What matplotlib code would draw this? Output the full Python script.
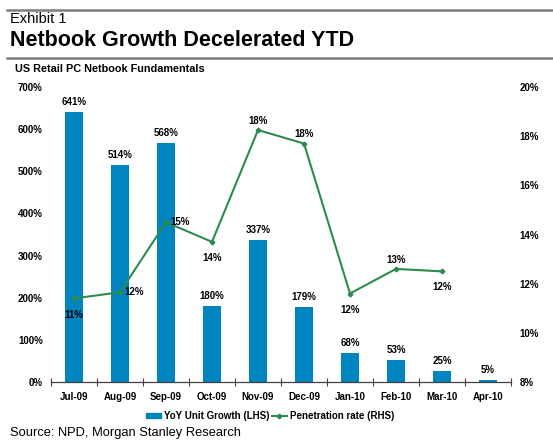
import numpy as np
from matplotlib import pyplot as plt
from matplotlib.lines import Line2D
from matplotlib.patches import Patch

plt.rcParams['font.family'] = ['Liberation Sans', 'DejaVu Sans']

months = ["Jul-09", "Aug-09", "Sep-09", "Oct-09", "Nov-09", "Dec-09",
          "Jan-10", "Feb-10", "Mar-10", "Apr-10"]
yoy_growth = [641, 514, 568, 180, 337, 179, 68, 53, 25, 5]
penetration = [11.4, 11.65, 14.5, 13.7, 18.25, 17.7, 11.6, 12.6, 12.5]
pen_labels = ["11%", "12%", "15%", "14%", "18%", "18%", "12%", "13%", "12%"]
# where each line label sits relative to its point
pen_label_pos = ["below", "right", "right", "below", "above", "above", "below", "above", "below"]

bar_color = "#0085C0"
line_color = "#2E8B4F"

W, H = 553, 441
fig = plt.figure(figsize=(W / 100, H / 100), dpi=100)

# header rules and titles
fig.add_artist(Line2D([7 / W, 1.0], [1 - 9.5 / H] * 2, color="#7f7f7f", lw=1.8))
fig.add_artist(Line2D([7 / W, 1.0], [1 - 58 / H] * 2, color="#7f7f7f", lw=1.8))
fig.text(10 / W, 1 - 19 / H, "Exhibit 1", fontsize=10.5, va="center", ha="left")
fig.text(10 / W, 1 - 41 / H, "Netbook Growth Decelerated YTD", fontsize=15.5,
         fontweight="bold", va="center", ha="left")
fig.text(15 / W, 1 - 69 / H, "US Retail PC Netbook Fundamentals", fontsize=7.8,
         fontweight="bold", va="center", ha="left")
fig.text(10 / W, 1 - 433 / H, "Source: NPD, Morgan Stanley Research", fontsize=9.3,
         va="center", ha="left")

ax = fig.add_axes([51 / W, 1 - 382 / H, 460 / W, 295 / H])
x = np.arange(len(months))
ax.bar(x, yoy_growth, width=0.4, color=bar_color, zorder=2)
for xi, v in zip(x, yoy_growth):
    ax.text(xi, v + 12, f"{v}%", ha="center", va="bottom", fontsize=7, fontweight="bold")

ax.set_xlim(-0.5, len(months) - 0.5)
ax.set_ylim(0, 700)
ax.set_yticks(np.arange(0, 701, 100))
ax.set_yticklabels([f"{v}%" for v in range(0, 701, 100)])
ax.set_xticks(x)
ax.set_xticklabels(months)
ax.set_xticks(np.arange(-0.5, len(months), 1), minor=True)
ax.tick_params(axis="x", which="major", length=0, pad=7)
ax.tick_params(axis="x", which="minor", length=6, direction="inout", width=0.8, color="#404040")
ax.tick_params(axis="y", length=0, pad=6)
for lbl in ax.get_xticklabels() + ax.get_yticklabels():
    lbl.set_fontsize(7)
    lbl.set_fontweight("bold")
for s in ["top", "right", "left"]:
    ax.spines[s].set_visible(False)
ax.spines["bottom"].set_linewidth(0.9)
ax.spines["bottom"].set_color("#404040")

ax2 = ax.twinx()
xp = x[:len(penetration)]
ax2.plot(xp, penetration, color=line_color, lw=1.5, marker="P", markersize=3, zorder=3)
ax2.set_ylim(8, 20)
ax2.set_yticks(np.arange(8, 21, 2))
ax2.set_yticklabels([f"{v}%" for v in range(8, 21, 2)])
ax2.tick_params(axis="y", length=0, pad=6)
for lbl in ax2.get_yticklabels():
    lbl.set_fontsize(7)
    lbl.set_fontweight("bold")
for s in ["top", "right", "left", "bottom"]:
    ax2.spines[s].set_visible(False)

offsets = {"below": (0, -8, "center", "top"), "above": (0, 3, "center", "bottom"),
           "right": (3, 0, "left", "center")}
for xi, v, t, pos in zip(xp, penetration, pen_labels, pen_label_pos):
    dx, dy, ha, va = offsets[pos]
    ax2.annotate(t, (xi, v), xytext=(dx, dy), textcoords="offset points",
                 ha=ha, va=va, fontsize=7, fontweight="bold")

handles = [Patch(color=bar_color, label="YoY Unit Growth (LHS)"),
           Line2D([], [], color=line_color, lw=1.5, marker="P", markersize=3,
                  label="Penetration rate (RHS)")]
fig.legend(handles=handles, loc="center", bbox_to_anchor=(270 / W, 1 - 416 / H), ncol=2,
           frameon=False, prop={"size": 7, "weight": "bold"}, handlelength=1.6,
           handleheight=0.5, handletextpad=0.3, columnspacing=0.2)

fig.savefig("out.png", dpi=100)
